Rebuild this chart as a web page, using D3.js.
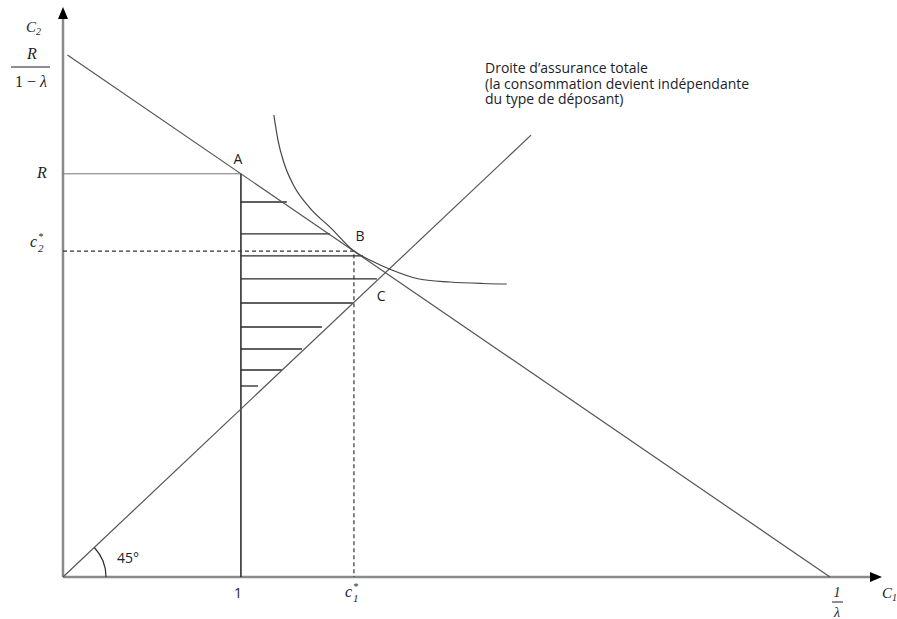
<!DOCTYPE html>
<html>
<head>
<meta charset="utf-8">
<script src="https://cdn.jsdelivr.net/npm/d3@7"></script>
<style>
  body { margin: 0; background: #fff; }
  svg { display: block; }
  .math { font-family: "Liberation Serif", "DejaVu Serif", serif; font-style: italic; fill: #1c1c2a; }
  .lbl { font-family: "Open Sans", "Noto Sans", sans-serif; fill: #1c1c2a; }
</style>
</head>
<body>
<svg id="chart" width="897" height="619"></svg>
<script>
// model parameters
const lambda = 0.232;
const R = 2.4;

// points A, B, C
const pointNames = ["A", "B", "C"];
const pointC1 = [1, 1.635, 1.81];
const pointC2 = [2.4, 1.94, 1.81];

// indifference curve
const curveC1 = [1.185, 1.208, 1.242, 1.298, 1.388, 1.506, 1.635, 1.736, 1.848, 1.989, 2.174, 2.36, 2.494];
const curveC2 = [2.75, 2.601, 2.464, 2.327, 2.196, 2.077, 1.94, 1.881, 1.827, 1.777, 1.756, 1.747, 1.744];

// hatch lines inside the area (height and right end)
const hatchC2 = [2.232, 2.042, 1.911, 1.774, 1.631, 1.488, 1.357, 1.232, 1.137];
const hatchEnd = [1.258, 1.5, 1.685, 1.764, 1.629, 1.455, 1.343, 1.23, 1.096];

// 45 degree line end
const diagEnd = 2.63;

const svg = d3.select("#chart");
const margin = { top: 52, right: 67, bottom: 42, left: 63 };
const width = +svg.attr("width") - margin.left - margin.right;
const height = +svg.attr("height") - margin.top - margin.bottom;

const yMax = R / (1 - lambda);
const x = d3.scaleLinear().domain([0, 1 / lambda]).range([margin.left, margin.left + width]);
const y = d3.scaleLinear().domain([0, yMax]).range([margin.top + height, margin.top]);
const budget = c1 => yMax * (1 - lambda * c1);

const line = d3.line().x(d => x(d[0])).y(d => y(d[1]));

// axes
const axisColor = "#8a8a8a";
svg.append("line")
  .attr("x1", x(0)).attr("y1", y(0)).attr("x2", x(0)).attr("y2", 16)
  .attr("stroke", axisColor).attr("stroke-width", 2.5);
svg.append("path")
  .attr("d", `M${x(0) - 5},19 L${x(0) + 5},19 L${x(0)},7 Z`)
  .attr("fill", "#000");
svg.append("line")
  .attr("x1", x(0)).attr("y1", y(0)).attr("x2", 872).attr("y2", y(0))
  .attr("stroke", axisColor).attr("stroke-width", 2.5);
svg.append("path")
  .attr("d", `M870,${y(0) - 5} L870,${y(0) + 5} L882,${y(0)} Z`)
  .attr("fill", "#000");

// horizontal line at R up to A
svg.append("line")
  .attr("x1", x(0)).attr("y1", y(R)).attr("x2", x(1)).attr("y2", y(R))
  .attr("stroke", "#777").attr("stroke-width", 1);

// vertical line at c1 = 1
svg.append("line")
  .attr("x1", x(1)).attr("y1", y(R)).attr("x2", x(1)).attr("y2", y(0))
  .attr("stroke", "#222").attr("stroke-width", 1.5);

// hatching
svg.append("g")
  .selectAll("line")
  .data(hatchC2)
  .join("line")
  .attr("x1", x(1))
  .attr("x2", (d, i) => x(hatchEnd[i]))
  .attr("y1", d => y(d))
  .attr("y2", d => y(d))
  .attr("stroke", "#2a2a2a")
  .attr("stroke-width", 1.3);

// dashed guides to B
svg.append("path")
  .attr("d", line([[0, pointC2[1]], [pointC1[1], pointC2[1]], [pointC1[1], 0]]))
  .attr("fill", "none")
  .attr("stroke", "#333")
  .attr("stroke-width", 1.2)
  .attr("stroke-dasharray", "4,3");

// budget line
svg.append("path")
  .attr("d", line([[0.025, budget(0.025)], [1 / lambda, 0]]))
  .attr("fill", "none").attr("stroke", "#555").attr("stroke-width", 1.2);

// full insurance line
svg.append("path")
  .attr("d", line([[0, 0], [diagEnd, diagEnd]]))
  .attr("fill", "none").attr("stroke", "#555").attr("stroke-width", 1.2);

// indifference curve
const curveLine = d3.line().x(d => x(d[0])).y(d => y(d[1])).curve(d3.curveMonotoneX);
svg.append("path")
  .datum(curveC1.map((c, i) => [c, curveC2[i]]))
  .attr("d", curveLine)
  .attr("fill", "none").attr("stroke", "#444").attr("stroke-width", 1.2);

// 45 degree arc
const ang = Math.atan2(y(0) - y(1), x(1) - x(0));
const r = 43;
const arcPath = d3.path();
arcPath.arc(x(0), y(0), r, -ang, 0);
svg.append("path")
  .attr("d", arcPath.toString())
  .attr("fill", "none").attr("stroke", "#333").attr("stroke-width", 1.2);
svg.append("text").attr("class", "lbl")
  .attr("x", 117).attr("y", 563).attr("font-size", 14).text("45°");

// point labels
const labelDx = [-3, 6, -4];
const labelDy = [-10, -10, 28];
svg.append("g")
  .selectAll("text")
  .data(pointNames)
  .join("text")
  .attr("class", "lbl")
  .attr("font-size", 14)
  .attr("text-anchor", "middle")
  .attr("x", (d, i) => x(pointC1[i]) + labelDx[i])
  .attr("y", (d, i) => y(pointC2[i]) + labelDy[i])
  .text(d => d);

// starred variable label: c, star above, index below
function starLabel(g, px, py, idx) {
  g.append("text").attr("class", "math").attr("x", px).attr("y", py).attr("font-size", 16).text("c");
  g.append("text").attr("class", "math").attr("x", px + 8).attr("y", py - 7).attr("font-size", 10).text("*");
  g.append("text").attr("class", "math").attr("x", px + 8).attr("y", py + 5).attr("font-size", 11)
    .attr("font-style", "normal").text(idx);
}

// y axis labels
const yl = svg.append("g");
yl.append("text").attr("class", "math").attr("x", 26).attr("y", 32).attr("font-size", 15)
  .html('C<tspan font-size="10" dy="3">2</tspan>');
yl.append("text").attr("class", "math").attr("x", 32).attr("y", 59).attr("font-size", 16)
  .attr("text-anchor", "middle").text("R");
yl.append("line").attr("x1", 11).attr("x2", 50).attr("y1", 67).attr("y2", 67)
  .attr("stroke", "#1c1c2a").attr("stroke-width", 1);
yl.append("text").attr("class", "math").attr("x", 31).attr("y", 87).attr("font-size", 16)
  .attr("text-anchor", "middle").html('<tspan font-style="normal">1 − </tspan>λ');
yl.append("text").attr("class", "math").attr("x", 42).attr("y", y(R) + 4).attr("font-size", 16)
  .attr("text-anchor", "middle").text("R");
starLabel(yl, 30, y(pointC2[1]) - 4, "2");

// x axis labels
const xl = svg.append("g");
xl.append("text").attr("class", "lbl").attr("x", x(1) - 3).attr("y", 598).attr("font-size", 14)
  .attr("text-anchor", "middle").text("1");
starLabel(xl, x(pointC1[1]) - 9, 597, "1");
xl.append("text").attr("class", "math").attr("x", x(1 / lambda) + 7).attr("y", 597).attr("font-size", 14)
  .attr("text-anchor", "middle").attr("font-style", "normal").text("1");
xl.append("line").attr("x1", x(1 / lambda) + 2).attr("x2", x(1 / lambda) + 13).attr("y1", 602).attr("y2", 602)
  .attr("stroke", "#1c1c2a").attr("stroke-width", 1);
xl.append("text").attr("class", "math").attr("x", x(1 / lambda) + 7).attr("y", 617).attr("font-size", 14)
  .attr("text-anchor", "middle").text("λ");
xl.append("text").attr("class", "math").attr("x", 882).attr("y", 598).attr("font-size", 15)
  .html('C<tspan font-size="10" dy="3">1</tspan>');

// annotation
const note = [
  "Droite d’assurance totale",
  "(la consommation devient indépendante",
  "du type de déposant)"
];
svg.append("g")
  .selectAll("text")
  .data(note)
  .join("text")
  .attr("class", "lbl")
  .attr("font-size", 14)
  .attr("x", 485)
  .attr("y", (d, i) => 73 + i * 15.5)
  .text(d => d);
</script>
</body>
</html>
